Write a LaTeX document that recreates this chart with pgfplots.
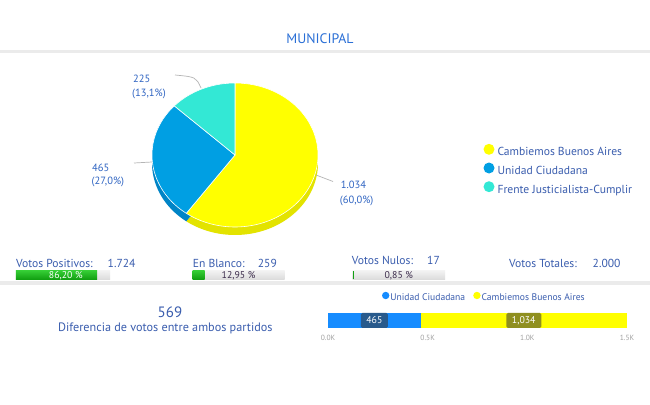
\documentclass[border=0pt]{standalone}
\usepackage{pgfplots}
\pgfplotsset{compat=1.18}
\usepackage{pgfplotstable}
\usepackage{fontspec}
\setmainfont{PT Sans}
\definecolor{titleblue}{HTML}{2A6FD6}
\definecolor{txtblue}{HTML}{3A5DAE}
\definecolor{pielbl}{HTML}{2F64C2}
\definecolor{cbyellow}{HTML}{FFFF00}
\definecolor{cbrim}{HTML}{E3E300}
\definecolor{ucpie}{HTML}{009FE3}
\definecolor{ucrim}{HTML}{0084C6}
\definecolor{fjteal}{HTML}{33E8D5}
\definecolor{fjrim}{HTML}{2CC9B9}
\definecolor{ucbar}{HTML}{168CFF}
\definecolor{boxA}{HTML}{285A8C}
\definecolor{boxB}{HTML}{8F8F1F}
\definecolor{sepgray}{HTML}{EBEBEB}
\definecolor{tickgray}{HTML}{A0A0A0}
\definecolor{leadgray}{HTML}{B5B5B5}
\definecolor{darktxt}{HTML}{3B2B4B}
\definecolor{gtop}{HTML}{34CC34}
\definecolor{gbot}{HTML}{12A012}
\definecolor{bgtop}{HTML}{F2F2F2}
\definecolor{bgbot}{HTML}{DCDCDC}
\newcommand{\fs}[1]{\fontsize{#1}{#1}\selectfont}

\pgfplotstableread{
party value
Cambiemos 1034
Unidad 465
Frente 225
}\piedata

\begin{document}%
\begin{tikzpicture}
\pgfplotstablegetelem{0}{value}\of\piedata \edef\vA{\pgfplotsretval}
\pgfplotstablegetelem{1}{value}\of\piedata \edef\vB{\pgfplotsretval}
\pgfplotstablegetelem{2}{value}\of\piedata \edef\vC{\pgfplotsretval}
\pgfmathsetmacro{\tot}{\vA+\vB+\vC}
\pgfmathsetmacro{\aA}{90-360*(\vA/\tot)}
\pgfmathsetmacro{\aB}{\aA-360*(\vB/\tot)}
\pgfmathsetmacro{\aC}{\aB-360*(\vC/\tot)}
\fill[white] (0,0) rectangle (650pt,404pt);
\begin{axis}[at={(0pt,0pt)}, anchor=south west, width=650pt, height=404pt, scale only axis,
  xmin=0, xmax=650, ymin=0, ymax=404, y dir=reverse, hide axis, clip=false,
  legend image code/.code={\fill[#1, draw=none] (0pt,3.8pt) circle (5.5pt);},
  legend style={draw=none, fill=none, inner sep=0pt, outer sep=0pt,
    at={(axis cs:483.5,143.8)}, anchor=north west, row sep=3.9pt, column sep=3pt,
    legend cell align=left,
    nodes={inner sep=0pt, text height=8pt, text depth=3pt, font=\fs{11.6}, text=txtblue}}]
% separators
\fill[sepgray] (axis cs:0,50) rectangle (axis cs:650,53);
\fill[sepgray] (axis cs:0,281) rectangle (axis cs:650,284.5);
% title
\node[anchor=base, text=titleblue, font=\fs{13.8}] at (axis cs:320,44) {MUNICIPAL};
% pie rim (shifted down)
\addplot[forget plot, fill=cbrim, draw=none, domain=\aA:90, samples=100] ({235+83*cos(x)},{163-72*sin(x)}) -- (axis cs:235,163) -- cycle;
\addplot[forget plot, fill=ucrim, draw=none, domain=\aB:\aA, samples=60] ({235+83*cos(x)},{163-72*sin(x)}) -- (axis cs:235,163) -- cycle;
\addplot[forget plot, fill=fjrim, draw=none, domain=\aC:\aB, samples=40] ({235+83*cos(x)},{163-72*sin(x)}) -- (axis cs:235,163) -- cycle;
% pie top
\addplot[forget plot, fill=cbyellow, draw=white, line width=0.6pt, domain=\aA:90, samples=100] ({235+83*cos(x)},{155-72*sin(x)}) -- (axis cs:235,155) -- cycle;
\addplot[forget plot, fill=ucpie, draw=white, line width=0.6pt, domain=\aB:\aA, samples=60] ({235+83*cos(x)},{155-72*sin(x)}) -- (axis cs:235,155) -- cycle;
\addplot[forget plot, fill=fjteal, draw=white, line width=0.6pt, domain=\aC:\aB, samples=40] ({235+83*cos(x)},{155-72*sin(x)}) -- (axis cs:235,155) -- cycle;
% leader lines
\draw[leadgray, line width=0.7pt] (axis cs:175,75) .. controls (axis cs:196,77) .. (axis cs:201,88);
\draw[leadgray, line width=0.7pt] (axis cs:134,163) -- (axis cs:152,162);
\draw[leadgray, line width=0.7pt] (axis cs:316,175) -- (axis cs:333,181.5);
% pie labels
\node[anchor=base west, inner sep=0pt, text=pielbl, font=\fs{10.5}] at (axis cs:133,83) {225};
\node[anchor=base west, inner sep=0pt, text=pielbl, font=\fs{10.5}] at (axis cs:132,96.5) {(13,1\%)};
\node[anchor=base west, inner sep=0pt, text=pielbl, font=\fs{10.5}] at (axis cs:92,171) {465};
\node[anchor=base west, inner sep=0pt, text=pielbl, font=\fs{10.5}] at (axis cs:91.5,184.5) {(27,0\%)};
\node[anchor=base west, inner sep=0pt, text=pielbl, font=\fs{10.5}] at (axis cs:340.7,188.5) {1.034};
\node[anchor=base west, inner sep=0pt, text=pielbl, font=\fs{10.5}] at (axis cs:339.7,203) {(60,0\%)};
% pie legend
\addlegendimage{fill=cbyellow}\addlegendentry{Cambiemos Buenos Aires}
\addlegendimage{fill=ucpie}\addlegendentry{Unidad Ciudadana}
\addlegendimage{fill=fjteal}\addlegendentry{Frente Justicialista-Cumplir}
% stats texts
\node[anchor=base west, inner sep=0pt, text=txtblue, font=\fs{11.6}] at (axis cs:16,267.5) {Votos Positivos:};
\node[anchor=base west, inner sep=0pt, text=txtblue, font=\fs{11.6}] at (axis cs:107.5,267.5) {1.724};
\node[anchor=base west, inner sep=0pt, text=txtblue, font=\fs{11.6}] at (axis cs:192.7,267.5) {En Blanco:};
\node[anchor=base west, inner sep=0pt, text=txtblue, font=\fs{11.6}] at (axis cs:257.7,267.5) {259};
\node[anchor=base west, inner sep=0pt, text=txtblue, font=\fs{11.6}] at (axis cs:351.7,264) {Votos Nulos:};
\node[anchor=base west, inner sep=0pt, text=txtblue, font=\fs{11.6}] at (axis cs:427,264) {17};
\node[anchor=base west, inner sep=0pt, text=txtblue, font=\fs{11.6}] at (axis cs:509,267.5) {Votos Totales:};
\node[anchor=base west, inner sep=0pt, text=txtblue, font=\fs{11.6}] at (axis cs:592.5,267.5) {2.000};
% difference
\node[anchor=base, inner sep=0pt, text=txtblue, font=\fs{15}] at (axis cs:170,317) {569};
\node[anchor=base, inner sep=0pt, text=txtblue, font=\fs{12.2}] at (axis cs:165.3,331) {Diferencia de votos entre ambos partidos};
\end{axis}
% progress bars
\begin{axis}[at={(16pt,{(404-279.1)*1pt})}, anchor=south west, width=94pt, height=8.3pt, scale only axis,
  hide axis, xmin=0, xmax=100, ymin=0, ymax=1, clip=false]
\addplot[draw=none, top color=bgtop, bottom color=bgbot] coordinates {(0,0) (100,0) (100,1) (0,1)} -- cycle;
\addplot[draw=none, top color=gtop, bottom color=gbot] coordinates {(0,0) (86.2,0) (86.2,1) (0,1)} -- cycle;
\node[text=white, font=\fs{9.8}, inner sep=0pt] at (axis cs:53,0.45) {86,20 \%};
\end{axis}
\begin{axis}[at={(192.7pt,{(404-279.1)*1pt})}, anchor=south west, width=91.8pt, height=8.3pt, scale only axis,
  hide axis, xmin=0, xmax=100, ymin=0, ymax=1, clip=false]
\addplot[draw=none, top color=bgtop, bottom color=bgbot] coordinates {(0,0) (100,0) (100,1) (0,1)} -- cycle;
\addplot[draw=none, top color=gtop, bottom color=gbot] coordinates {(0,0) (12.95,0) (12.95,1) (0,1)} -- cycle;
\node[text=darktxt, font=\fs{9.8}, inner sep=0pt] at (axis cs:50,0.45) {12,95 \%};
\end{axis}
\begin{axis}[at={(352.7pt,{(404-279.1)*1pt})}, anchor=south west, width=92.3pt, height=8.3pt, scale only axis,
  hide axis, xmin=0, xmax=100, ymin=0, ymax=1, clip=false]
\addplot[draw=none, top color=bgtop, bottom color=bgbot] coordinates {(0,0) (100,0) (100,1) (0,1)} -- cycle;
\addplot[draw=none, fill=gbot] coordinates {(0,0) (0.85,0) (0.85,1) (0,1)} -- cycle;
\node[text=darktxt, font=\fs{9.8}, inner sep=0pt] at (axis cs:50,0.45) {0,85 \%};
\end{axis}
% stacked bar
\begin{axis}[at={(328pt,{(404-328)*1pt})}, anchor=south west, width=299pt, height=15pt, scale only axis,
  xbar stacked, bar width=15pt, xmin=0, xmax=1500, ymin=0.5, ymax=1.5,
  axis line style={draw=none}, ytick=\empty, xtick={0,500,1000,1500},
  xticklabels={0.0K,0.5K,1.0K,1.5K}, major tick length=0pt,
  xticklabel style={font=\fs{7.5}, text=tickgray, yshift=-4pt}, clip=false]
\addplot[fill=ucbar, draw=none] coordinates {(465,1)};
\addplot[fill=cbyellow, draw=none] coordinates {(1034,1)};
\end{axis}
% bar value labels (overlay, same geometry)
\begin{axis}[at={(328pt,{(404-328)*1pt})}, anchor=south west, width=299pt, height=15pt, scale only axis,
  hide axis, xmin=0, xmax=1500, ymin=0.5, ymax=1.5, clip=false]
\node[fill=boxA, text=white, rounded corners=1.5pt, minimum width=27pt, minimum height=15pt, inner sep=0pt, font=\fs{9.8}] at (axis cs:232.5,1) {465};
\node[fill=boxB, text=white, rounded corners=1.5pt, minimum width=35pt, minimum height=15pt, inner sep=0pt, font=\fs{9.8}] at (axis cs:982,1) {1,034};
\end{axis}
% bottom legend
\begin{axis}[at={(382pt,{(404-291.8)*1pt})}, anchor=north west, width=10pt, height=10pt, scale only axis,
  hide axis, xmin=0, xmax=1, ymin=0, ymax=1,
  legend columns=2,
  legend image code/.code={\fill[#1, draw=none] (0pt,2.5pt) circle (3.7pt);},
  legend style={draw=none, fill=none, inner sep=0pt, outer sep=0pt,
    at={(0,1)}, anchor=north west,
    /tikz/every odd column/.append style={column sep=1pt},
    /tikz/every even column/.append style={column sep=8pt},
    nodes={inner sep=0pt, text height=7pt, text depth=2pt, font=\fs{9.6}, text=txtblue}}]
\addlegendimage{fill=ucbar}\addlegendentry{Unidad Ciudadana}
\addlegendimage{fill=cbyellow}\addlegendentry{Cambiemos Buenos Aires}
\end{axis}
\pgfresetboundingbox
\useasboundingbox (0,0) rectangle (650pt,404pt);
\end{tikzpicture}%
\end{document}
